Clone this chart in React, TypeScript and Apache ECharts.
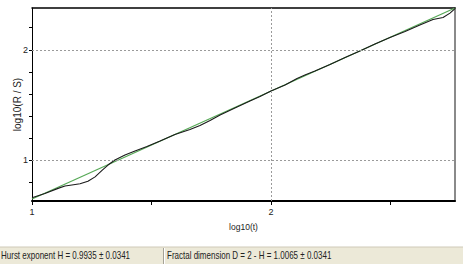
import React, { useEffect, useRef } from "react";
import * as echarts from "echarts";

// log10(t) and log10(R/S) of the measured curve
const logT = [1.0, 1.054, 1.109, 1.138, 1.167, 1.201, 1.234, 1.264, 1.293, 1.318, 1.347, 1.389, 1.431, 1.481, 1.536, 1.598, 1.661, 1.703, 1.745, 1.787, 1.849, 1.912, 1.954, 2.0, 2.059, 2.109, 2.142, 2.184, 2.247, 2.31, 2.372, 2.435, 2.498, 2.561, 2.623, 2.678, 2.72, 2.749, 2.77];
const logRS = [0.664, 0.702, 0.748, 0.77, 0.779, 0.79, 0.812, 0.852, 0.91, 0.959, 1.005, 1.05, 1.086, 1.126, 1.176, 1.235, 1.28, 1.316, 1.361, 1.411, 1.474, 1.537, 1.578, 1.628, 1.682, 1.741, 1.772, 1.808, 1.867, 1.93, 1.989, 2.052, 2.111, 2.165, 2.224, 2.274, 2.292, 2.332, 2.373];

// fitted line endpoints
const fitT = [1.0, 2.77];
const fitRS = [0.652, 2.378];

const xTicks = [1, 1.5, 2, 2.5];
const xLabels = [1, 2];
const yTicks = [0.8, 1, 1.2, 1.4, 1.6, 1.8, 2, 2.2];
const yLabels = [1, 2];
const gridX = [2];
const gridY = [1, 2];

const hurstText = "Hurst exponent H = 0.9935 ± 0.0341";
const fractalText = "Fractal dimension D = 2 - H = 1.0065 ± 0.0341";

const FONT = "'Liberation Sans', Arial, sans-serif";

export default function App() {
  const ref = useRef<HTMLDivElement>(null);
  useEffect(() => {
    document.body.style.margin = "0";
    const chart = echarts.init(ref.current!, null, { renderer: "svg" });
    const xMin = 1, xMax = 2.77, yMin = 0.634, yMax = 2.378;
    chart.setOption({
      animation: false,
      backgroundColor: "#ffffff",
      textStyle: { fontFamily: FONT },
      grid: { left: 32, right: 8, top: 8, bottom: 63, containLabel: false },
      xAxis: [
        {
          type: "value", position: "bottom", min: xMin, max: xMax,
          name: "log10(t)", nameLocation: "middle", nameGap: 21, nameMoveOverlap: false,
          nameTextStyle: { fontFamily: FONT, fontSize: 8.5, color: "#222" },
          axisLine: { show: true, onZero: false, lineStyle: { color: "#000", width: 2 } },
          axisTick: { show: true, customValues: xTicks, length: 4, lineStyle: { color: "#000" } },
          axisLabel: { customValues: xLabels, margin: 6, alignMinLabel: "center", alignMaxLabel: "center", fontFamily: FONT, fontSize: 9, color: "#222", formatter: (v: number) => String(v) },
          splitLine: { show: false },
        },
        {
          type: "value", position: "top", min: xMin, max: xMax,
          axisLine: { show: true, onZero: false, lineStyle: { color: "#000", width: 1.5 } },
          axisTick: { show: false }, axisLabel: { show: false }, splitLine: { show: false },
        },
      ],
      yAxis: [
        {
          type: "value", position: "left", min: yMin, max: yMax,
          name: "log10(R / S)", nameLocation: "middle", nameGap: 10, nameMoveOverlap: false,
          nameTextStyle: { fontFamily: FONT, fontSize: 10, color: "#222" },
          axisLine: { show: true, onZero: false, lineStyle: { color: "#000", width: 1 } },
          axisTick: { show: true, customValues: yTicks, length: 3, lineStyle: { color: "#000" } },
          axisLabel: { customValues: yLabels, margin: 4, fontFamily: FONT, fontSize: 9, color: "#222", formatter: (v: number) => String(v) },
          splitLine: { show: false },
        },
        {
          type: "value", position: "right", min: yMin, max: yMax,
          axisLine: { show: true, onZero: false, lineStyle: { color: "#8a8a8a", width: 2 } },
          axisTick: { show: false }, axisLabel: { show: false }, splitLine: { show: false },
        },
      ],
      series: [
        {
          type: "line",
          data: fitT.map((t, i) => [t, fitRS[i]]),
          showSymbol: false,
          lineStyle: { color: "#55a855", width: 1.2 },
          markLine: {
            silent: true, symbol: "none", label: { show: false },
            lineStyle: { color: "#9a9a9a", type: [2, 2], width: 1 },
            data: [
              ...gridY.map((v) => ({ yAxis: v })),
              ...gridX.map((v) => ({ xAxis: v })),
            ],
          },
          z: 2,
        },
        {
          type: "line",
          data: logT.map((t, i) => [t, logRS[i]]),
          showSymbol: false,
          lineStyle: { color: "#1a1a1a", width: 1.1 },
          z: 3,
        },
      ],
      graphic: [
        { type: "rect", left: 0, top: 247, shape: { width: 463, height: 17 }, style: { fill: "#ECE9D8" }, silent: true },
        { type: "line", shape: { x1: 0, y1: 247, x2: 463, y2: 247 }, style: { stroke: "#cfcab8", lineWidth: 1 }, silent: true },
        { type: "line", shape: { x1: 163.5, y1: 248, x2: 163.5, y2: 264 }, style: { stroke: "#a5a296", lineWidth: 1 }, silent: true },
        { type: "line", shape: { x1: 164.5, y1: 248, x2: 164.5, y2: 264 }, style: { stroke: "#ffffff", lineWidth: 1 }, silent: true },
        { type: "text", x: 1, y: 250.5, scaleX: 0.8, style: { text: hurstText, fontFamily: FONT, fontSize: 10, fill: "#222" }, silent: true },
        { type: "text", x: 167, y: 250.5, scaleX: 0.8, style: { text: fractalText, fontFamily: FONT, fontSize: 10, fill: "#222" }, silent: true },
      ],
    });
    return () => chart.dispose();
  }, []);
  return <div ref={ref} style={{ position: "absolute", left: 0, top: 0, width: 463, height: 264 }} />;
}
